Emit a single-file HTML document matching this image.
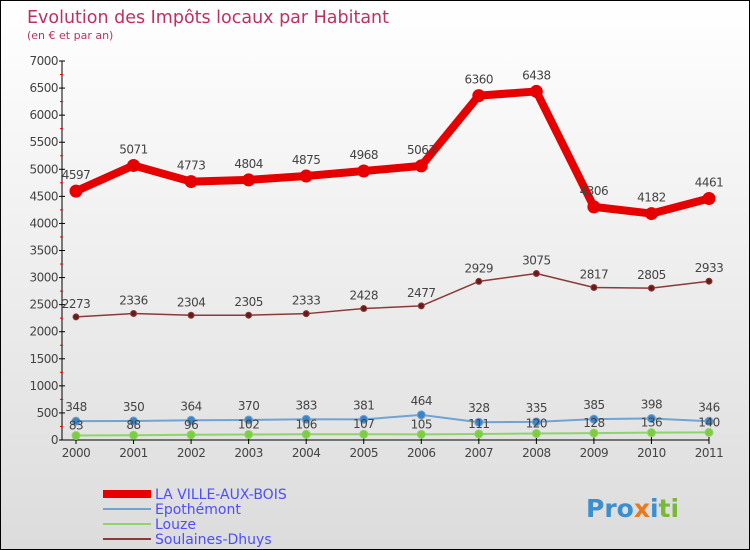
<!DOCTYPE html>
<html><head><meta charset="utf-8"><style>
body{margin:0}
#c{width:748px;height:548px;border:1px solid #000;position:relative;background:linear-gradient(#fff,#dcdcdc);font-family:"DejaVu Sans","Liberation Sans",sans-serif;overflow:hidden}
</style></head><body>
<div id="c">
<svg id="s" width="748" height="548" xmlns="http://www.w3.org/2000/svg">
<text x="26" y="22" font-size="18" fill="#c0305e" textLength="362" lengthAdjust="spacingAndGlyphs" font-family="DejaVu Sans, sans-serif">Evolution des Impôts locaux par Habitant</text>
<text x="26" y="38" font-size="11" fill="#c0305e">(en € et par an)</text>
<g id="axes"></g><g id="series"></g>
<g id="legend" font-size="14" fill="#4d4dff"></g>
<text x="585" y="516" font-size="25" font-weight="bold"><tspan fill="#3a8fd0">Pro</tspan><tspan fill="#e87a1e">x</tspan><tspan fill="#3a8fd0">i</tspan><tspan fill="#7ab83a">ti</tspan></text>
</svg></div>
<script>
const years=["2000","2001","2002","2003","2004","2005","2006","2007","2008","2009","2010","2011"];
const villeAuxBois=[4597,5071,4773,4804,4875,4968,5063,6360,6438,4306,4182,4461];
const epothemont=[348,350,364,370,383,381,464,328,335,385,398,346];
const louze=[83,88,96,102,106,107,105,111,120,128,136,140];
const soulaines=[2273,2336,2304,2305,2333,2428,2477,2929,3075,2817,2805,2933];
const yTicks=[0,500,1000,1500,2000,2500,3000,3500,4000,4500,5000,5500,6000,6500,7000];
const NS="http://www.w3.org/2000/svg";
const X=i=>75+i*(633/11), Y=v=>439-v*(379/7000);
function mk(p,t,a){const e=document.createElementNS(NS,t);for(const k in a)e.setAttribute(k,a[k]);p.appendChild(e);return e;}
const ax=document.getElementById('axes');
let l=mk(ax,'line',{x1:61,y1:Y(7000),x2:61,y2:Y(0),stroke:'#000'});

l=mk(ax,'line',{x1:61,y1:Y(0),x2:X(11),y2:Y(0),stroke:'#000'});

yTicks.forEach(v=>{mk(ax,'line',{x1:58,x2:64,y1:Y(v),y2:Y(v),stroke:'#000'});
 if(v<7000)mk(ax,'line',{x1:59,x2:62,y1:Y(v+250),y2:Y(v+250),stroke:'#e00'});
 const t=mk(ax,'text',{x:57,y:Y(v)+4,'font-size':12,fill:'#444','text-anchor':'end','letter-spacing':'-0.5'});t.textContent=v;
 });
years.forEach((y,i)=>{mk(ax,'line',{x1:X(i),x2:X(i),y1:Y(0)-3,y2:Y(0)+4,stroke:'#000'});
 const t=mk(ax,'text',{x:X(i),y:Y(0)+17,'font-size':12,fill:'#444','text-anchor':'middle','letter-spacing':'-0.5'});t.textContent=y;
 });
const sg=document.getElementById('series');
function series(data,name,color,w,r,mcol,labels){
 const g=mk(sg,'g',{});
 mk(g,'polyline',{points:data.map((v,i)=>X(i)+','+Y(v)).join(' '),fill:'none',stroke:color,'stroke-width':w,'stroke-linejoin':'round'});
 data.forEach((v,i)=>{const c=mk(g,'circle',{cx:X(i),cy:Y(v),r:r,fill:mcol,stroke:color,'stroke-width':1});
  
  if(labels){const t=mk(g,'text',{x:X(i),y:Y(v)-(r+6),'font-size':12,fill:'#444','text-anchor':'middle','letter-spacing':'-0.5'});t.textContent=v;}});
}
series(louze,'louze','#8fd46a',2,4,'#7ccd3f',false);
series(epothemont,'epothemont','#6fa3d4',2,4,'#3a85c8',true);
louze.forEach((v,i)=>{const t=mk(sg,'text',{x:X(i),y:Y(v)-6,'font-size':12,fill:'#444','text-anchor':'middle','letter-spacing':'-0.5'});t.textContent=v;});
series(soulaines,'soulaines-dhuys','#8b3a3a',1.5,3,'#6b1a1a',true);
series(villeAuxBois,'la-ville-aux-bois','#e60000',8,6,'#e60000',true);
const lg=document.getElementById('legend');
[["LA VILLE-AUX-BOIS","#e60000",8],["Epothémont","#6fa3d4",2],["Louze","#8fd46a",2],["Soulaines-Dhuys","#8b3a3a",2]].forEach((d,i)=>{
 const y=493+i*15;const ln=mk(lg,'line',{x1:102,x2:150,y1:y,y2:y,stroke:d[1],'stroke-width':d[2]});
 
 const t=mk(lg,'text',{x:154,y:y+5});t.textContent=d[0];
 });
</script></body></html>
